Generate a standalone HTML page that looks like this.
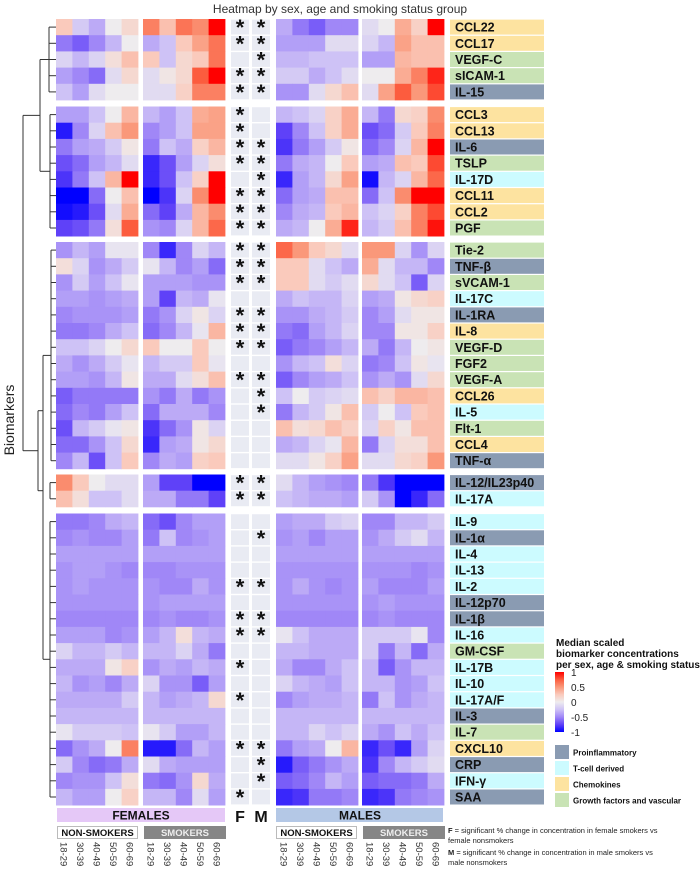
<!DOCTYPE html>
<html><head><meta charset="utf-8">
<style>
body{margin:0;background:#fff;}
svg{display:block;font-family:"Liberation Sans",sans-serif;}
</style></head>
<body>
<svg id="chart" width="700" height="870" viewBox="0 0 700 870">
<text x="340" y="13" text-anchor="middle" font-size="12" fill="#333">Heatmap by sex, age and smoking status group</text>
<text transform="translate(14,420) rotate(-90)" text-anchor="middle" font-size="14" fill="#222">Biomarkers</text>
<g id="dendro" stroke="#333" stroke-width="1" fill="none"></g>
<g id="cells"></g>
<g id="labels"></g>
<g id="bottom"></g>
<g id="legend"></g>
</svg>
<script>
const biomarkers=["CCL22","CCL17","VEGF-C","sICAM-1","IL-15",
"CCL3","CCL13","IL-6","TSLP","IL-17D","CCL11","CCL2","PGF",
"Tie-2","TNF-β","sVCAM-1","IL-17C","IL-1RA","IL-8","VEGF-D","FGF2","VEGF-A","CCL26","IL-5","Flt-1","CCL4","TNF-α",
"IL-12/IL23p40","IL-17A",
"IL-9","IL-1α","IL-4","IL-13","IL-2","IL-12p70","IL-1β","IL-16","GM-CSF","IL-17B","IL-10","IL-17A/F","IL-3","IL-7","CXCL10","CRP","IFN-γ","SAA"];
const groupSizes=[5,8,14,2,18];
const categories=["chem","chem","growth","growth","pro",
"chem","chem","pro","growth","tcell","chem","chem","growth",
"growth","pro","growth","tcell","pro","chem","growth","growth","growth","chem","tcell","growth","chem","pro",
"pro","tcell",
"tcell","pro","tcell","tcell","tcell","pro","pro","tcell","growth","tcell","tcell","tcell","pro","growth","chem","pro","tcell","pro"];
const ageGroups=["18-29","30-39","40-49","50-59","60-69"];
const femaleSig=[1,1,0,1,1, 1,1,1,1,0,1,1,1, 1,1,1,0,1,1,1,0,1,0,0,0,0,0, 1,1, 0,0,0,0,1,0,1,1,0,1,0,1,0,0,1,0,0,1];
const maleSig=[1,1,1,1,1, 0,0,1,1,1,1,1,1, 1,1,1,0,1,1,1,0,1,1,1,0,0,0, 1,1, 0,1,0,0,1,0,1,1,0,0,0,0,0,0,1,1,1,0];
const femaleNonSmokers=[
[0.25,-0.2,-0.35,0,0.15],[-0.55,-0.65,-0.5,-0.3,0],[-0.15,-0.3,-0.15,0.1,0.3],[-0.4,-0.5,-0.6,-0.1,0.15],[-0.25,-0.4,-0.1,0,0],
[-0.4,-0.4,-0.25,0,0.35],[-0.9,-0.5,-0.15,0.3,0.5],[-0.55,-0.4,-0.35,-0.2,0.05],[-0.7,-0.6,-0.4,-0.3,-0.1],[-0.8,-0.55,-0.25,0.35,1],[-1,-1,-0.6,0,0.3],[-0.95,-0.9,-0.7,-0.1,0.4],[-0.75,-0.7,-0.55,0.1,0.75],
[-0.45,-0.3,-0.4,-0.05,-0.05],[0.1,-0.15,-0.45,-0.35,-0.2],[-0.45,-0.2,-0.4,-0.25,-0.05],[-0.4,-0.4,-0.45,-0.4,-0.35],[-0.5,-0.45,-0.45,-0.45,-0.4],[-0.55,-0.55,-0.5,-0.35,-0.25],[-0.25,-0.25,-0.15,0,0.15],[-0.35,-0.45,-0.35,-0.2,-0.05],[-0.4,-0.4,-0.45,-0.3,0.05],[-0.65,-0.55,-0.55,-0.55,-0.55],[-0.6,-0.5,-0.55,-0.4,-0.25],[-0.7,-0.3,-0.2,-0.05,0.05],[-0.6,-0.6,-0.45,-0.25,0.15],[-0.5,-0.3,-0.7,-0.25,0.25],
[0.55,0.25,0,-0.1,-0.1],[0.3,0.1,-0.25,-0.25,-0.1],
[-0.55,-0.55,-0.5,-0.35,-0.3],[-0.5,-0.45,-0.5,-0.5,-0.4],[-0.4,-0.4,-0.4,-0.4,-0.4],[-0.45,-0.4,-0.4,-0.45,-0.5],[-0.45,-0.4,-0.45,-0.45,-0.45],[-0.45,-0.45,-0.45,-0.45,-0.45],[-0.5,-0.5,-0.5,-0.5,-0.5],[-0.4,-0.4,-0.4,-0.5,-0.45],[-0.15,-0.3,-0.3,-0.2,-0.3],[-0.35,-0.35,-0.35,0.05,0.2],[-0.3,-0.45,-0.4,-0.5,-0.35],[-0.35,-0.35,-0.35,-0.35,-0.2],[-0.3,-0.3,-0.3,-0.3,-0.3],[-0.05,-0.2,-0.2,-0.2,-0.25],[-0.6,-0.45,-0.35,0,0.6],[-0.2,-0.5,-0.6,-0.55,-0.35],[-0.5,-0.45,-0.45,-0.25,0.1],[-0.3,-0.4,-0.4,0,0.2]];
const femaleSmokers=[
[0.6,0.3,0.65,0.55,1],[-0.35,-0.25,0.25,0.45,0.65],[0.25,-0.25,0.15,0.25,0.65],[-0.1,0.05,0.15,0.75,1],[-0.1,-0.1,0.2,0.6,0.6],
[-0.3,-0.4,-0.25,0.4,0.45],[-0.5,-0.4,-0.25,0.45,0.45],[-0.55,-0.25,-0.35,0.2,0.35],[-0.85,-0.7,-0.4,-0.15,0.1],[-0.85,-0.7,-0.25,0.2,1],[-1,-0.8,-0.15,0.55,1],[-0.6,-0.75,-0.35,0.35,0.55],[-0.45,-0.5,-0.15,0.35,0.7],
[-0.5,-0.85,-0.5,-0.15,-0.3],[-0.05,-0.3,-0.5,-0.4,-0.6],[-0.4,-0.4,-0.4,-0.45,-0.45],[-0.4,-0.75,-0.3,-0.35,-0.05],[-0.55,-0.45,-0.15,0.05,-0.15],[-0.6,-0.5,-0.3,-0.05,0.35],[0.25,0,0,0.25,0],[-0.3,-0.2,-0.2,0.25,-0.05],[-0.35,-0.35,-0.1,0.1,0.3],[-0.45,-0.55,-0.35,-0.55,-0.45],[-0.6,-0.35,-0.35,-0.35,-0.5],[-0.8,-0.6,-0.45,0.05,-0.15],[-0.85,-0.4,-0.35,0.05,0.15],[-0.5,-0.35,-0.4,0.2,0.25],
[-0.4,-0.75,-0.75,-1,-1],[-0.35,-0.35,-0.55,-0.55,-0.75],
[-0.6,-0.7,-0.5,-0.4,-0.4],[-0.55,-0.25,-0.5,-0.45,-0.4],[-0.4,-0.4,-0.4,-0.4,-0.4],[-0.5,-0.5,-0.45,-0.45,-0.45],[-0.45,-0.5,-0.5,-0.35,-0.45],[-0.45,-0.4,-0.4,-0.4,-0.4],[-0.5,-0.45,-0.5,-0.5,-0.45],[-0.4,-0.3,0.1,-0.3,-0.35],[-0.3,-0.3,-0.15,-0.35,-0.55],[-0.45,-0.35,-0.4,-0.3,-0.35],[-0.15,-0.45,-0.45,-0.65,-0.4],[-0.3,-0.4,-0.35,-0.3,0.15],[-0.3,-0.3,-0.3,-0.3,-0.3],[-0.05,-0.2,-0.4,-0.4,-0.3],[-0.9,-0.9,-0.6,-0.3,-0.4],[-0.1,-0.35,-0.4,-0.4,-0.4],[-0.55,-0.6,-0.45,0.15,-0.35],[-0.3,-0.3,-0.5,-0.1,-0.4]];
const maleNonSmokers=[
[-0.35,-0.55,-0.65,-0.5,-0.5],[-0.4,-0.4,-0.4,-0.1,-0.1],[-0.3,-0.3,-0.25,-0.25,-0.25],[-0.2,-0.2,-0.35,-0.25,-0.1],[-0.45,-0.45,-0.1,0.15,0.3],
[-0.3,-0.25,-0.15,0.2,0.4],[-0.75,-0.5,-0.25,0.2,0.4],[-0.8,-0.55,-0.4,-0.2,0.05],[-0.55,-0.35,-0.3,0,0.25],[-0.85,-0.4,-0.3,0.15,0.45],[-0.6,-0.4,-0.35,0.3,0.3],[-0.5,-0.35,-0.3,0.25,0.35],[-0.35,-0.3,0,0.4,0.9],
[0.7,0.5,0.25,0.15,-0.1],[0.25,0.25,-0.1,-0.25,-0.35],[0.25,0.25,-0.1,-0.2,-0.1],[-0.35,-0.25,-0.3,-0.3,-0.15],[-0.45,-0.45,-0.35,-0.3,-0.2],[-0.55,-0.6,-0.4,-0.3,-0.15],[-0.65,-0.55,-0.5,-0.4,-0.3],[-0.45,-0.3,-0.25,0.1,-0.15],[-0.65,-0.5,-0.4,-0.35,-0.25],[-0.25,0,-0.2,-0.15,-0.1],[-0.55,-0.3,-0.2,0.05,0.3],[0.3,0.1,0.15,0.3,0.2],[-0.35,-0.3,-0.15,-0.05,0.35],[-0.1,-0.1,0.05,0.2,0.45],
[-0.1,-0.3,-0.4,-0.45,-0.5],[-0.25,-0.3,-0.35,-0.35,-0.4],
[-0.4,-0.35,-0.35,-0.2,-0.15],[-0.45,-0.4,-0.5,-0.4,-0.4],[-0.4,-0.4,-0.4,-0.4,-0.4],[-0.45,-0.45,-0.45,-0.45,-0.45],[-0.45,-0.35,-0.45,-0.5,-0.45],[-0.45,-0.45,-0.45,-0.45,-0.45],[-0.5,-0.5,-0.5,-0.5,-0.5],[-0.05,-0.25,-0.35,-0.35,-0.35],[-0.3,-0.3,-0.35,-0.35,-0.35],[-0.35,-0.5,-0.5,-0.35,-0.25],[-0.15,-0.3,-0.35,-0.4,-0.25],[-0.5,-0.4,-0.35,-0.35,-0.3],[-0.3,-0.3,-0.3,-0.3,-0.3],[-0.3,-0.3,-0.15,-0.25,-0.15],[-0.55,-0.4,-0.35,0,0.35],[-0.9,-0.65,-0.55,-0.45,-0.35],[-0.65,-0.6,-0.5,-0.3,-0.4],[-0.85,-0.8,-0.55,-0.55,-0.5]];
const maleSmokers=[
[-0.1,0,0.4,0.2,1],[-0.15,-0.3,0.45,0.3,0.3],[-0.4,-0.4,0.35,0.3,0.3],[0,0,0.4,0.6,0.9],[-0.1,0.45,0.75,0.5,0.8],
[-0.3,-0.55,0.15,0.2,0.55],[-0.7,-0.6,-0.2,0.25,0.6],[-0.6,-0.5,-0.15,0.35,1],[-0.4,-0.35,0.3,0.25,0.8],[-0.95,-0.3,-0.15,0.35,0.7],[-0.6,-0.25,0.55,1,1],[-0.25,-0.15,0.2,0.6,0.8],[-0.3,-0.2,0.3,0.6,0.95],
[0.5,0.5,-0.15,-0.45,-0.15],[0.4,-0.1,-0.3,-0.3,-0.5],[0.15,-0.1,-0.25,-0.65,-0.15],[-0.4,-0.35,0.05,0.15,0.2],[-0.5,-0.4,-0.1,0.05,0.05],[-0.5,-0.5,0.05,0.05,0.2],[-0.35,-0.55,-0.3,0,0.05],[-0.55,-0.5,-0.25,0.05,-0.05],[-0.45,-0.35,-0.45,-0.1,0.15],[0.3,0.2,0.35,0.35,0.3],[-0.2,0,-0.25,0.25,0.3],[-0.15,0.2,0.05,0.3,0.3],[-0.55,-0.15,0.1,0.1,0.3],[-0.1,-0.1,0.15,0.2,0.5],
[-0.55,-0.8,-1,-1,-1],[-0.2,-0.45,-1,-0.85,-0.6],
[-0.5,-0.5,-0.3,-0.3,-0.2],[-0.45,-0.35,-0.2,-0.1,-0.3],[-0.4,-0.4,-0.4,-0.4,-0.4],[-0.45,-0.45,-0.45,-0.5,-0.45],[-0.4,-0.5,-0.5,-0.5,-0.4],[-0.45,-0.4,-0.45,-0.45,-0.45],[-0.5,-0.45,-0.5,-0.5,-0.5],[-0.2,-0.2,-0.2,-0.05,-0.5],[-0.2,-0.55,-0.3,-0.6,-0.35],[-0.3,-0.65,-0.45,-0.3,-0.3],[-0.3,-0.3,-0.45,-0.4,-0.25],[-0.55,-0.25,-0.45,-0.35,-0.3],[-0.3,-0.3,-0.3,-0.3,-0.3],[-0.35,-0.45,-0.25,-0.35,-0.25],[-0.85,-0.7,-0.85,-0.4,-0.15],[-0.8,-0.5,-0.3,-0.2,-0.1],[-0.65,-0.6,-0.6,-0.55,-0.35],[-0.85,-0.8,-0.55,-0.5,-0.45]];
const legendTicks=[1,0.5,0,-0.5,-1];

const NS="http://www.w3.org/2000/svg";
function mk(tag,attrs,parent){const e=document.createElementNS(NS,tag);for(const k in attrs)e.setAttribute(k,attrs[k]);parent.appendChild(e);return e;}
const stops=[[-1,[0,0,255]],[-0.75,[95,65,248]],[-0.5,[160,135,247]],[-0.25,[206,194,246]],[0,[238,236,238]],[0.25,[250,202,188]],[0.5,[250,152,122]],[0.75,[252,92,62]],[1,[255,0,0]]];
function color(v){v=Math.max(-1,Math.min(1,v));for(let i=0;i<stops.length-1;i++){const a=stops[i],b=stops[i+1];if(v<=b[0]){const t=(v-a[0])/(b[0]-a[0]);const c=a[1].map((x,j)=>Math.round(x+(b[1][j]-x)*t));return `rgb(${c})`;}}return "rgb(255,0,0)";}
const catColor={pro:"#8a9bb2",tcell:"#ccfbff",chem:"#fde3a0",growth:"#c9e3b5"};
const groupTops=[19,106.5,242,474.5,513.5];
const rowH=16.2;
const rowY=[];{let r=0;groupSizes.forEach((n,g)=>{for(let i=0;i<n;i++){rowY[r]=groupTops[g]+i*rowH;r++;}});}
function yScale(i){return rowY[i];}
const panelX=[56,143,276,362];const colW=16.4;
function xScale(panel,col){return panelX[panel]+col*colW;}
const panels=[femaleNonSmokers,femaleSmokers,maleNonSmokers,maleSmokers];
const panelNames=["female-nonsmokers","female-smokers","male-nonsmokers","male-smokers"];
const cells=document.getElementById('cells');
panels.forEach((data,p)=>{
  data.forEach((row,i)=>{row.forEach((v,c)=>{
    const r=mk('rect',{x:xScale(p,c).toFixed(2),y:yScale(i).toFixed(2),width:colW+0.4,height:rowH+0.4,fill:color(v)},cells);
    
    
  });});
});
const sigX=[231,252];
[femaleSig,maleSig].forEach((arr,k)=>{
  arr.forEach((s,i)=>{
    const r=mk('rect',{x:sigX[k],y:(yScale(i)+0.7).toFixed(2),width:18,height:rowH-1.4,fill:"#e9ebf3"},cells);
    
    
    if(s){const t=mk('text',{x:sigX[k]+9,y:(yScale(i)+rowH/2+8).toFixed(2),'text-anchor':'middle','font-size':22,'font-weight':'bold',fill:'#111'},cells);t.textContent='*';
      
      }
  });
});
const lab=document.getElementById('labels');
biomarkers.forEach((b,i)=>{
  const r=mk('rect',{x:450,y:(yScale(i)+0.6).toFixed(2),width:94,height:rowH-1.2,fill:catColor[categories[i]]},lab);
  
  
  const t=mk('text',{x:455,y:(yScale(i)+rowH/2+4.5).toFixed(2),'font-size':12.5,'font-weight':'bold',fill:'#111'},lab);t.textContent=b;
  
  
});
const dg=document.getElementById('dendro');
function seg(x1,y1,x2,y2){mk('line',{x1,y1,x2,y2},dg);}
function cy(i){return yScale(i)+rowH/2;}
function leafs(start,n,xJoin){for(let i=start;i<start+n;i++)seg(xJoin,cy(i),56,cy(i));}
function tree(start,n,xj){leafs(start,n,xj);seg(xj,cy(start),xj,cy(start+n-1));}
let s=0;const joinXs=[49,50,51,50,50];
const mids=[];
groupSizes.forEach((n,g)=>{tree(s,n,joinXs[g]);mids.push([(cy(s)+cy(s+n-1))/2,joinXs[g]]);s+=n;});
seg(40,mids[0][0],mids[0][1],mids[0][0]);seg(40,mids[1][0],mids[1][1],mids[1][0]);seg(40,mids[0][0],40,mids[1][0]);
seg(43,mids[2][0],mids[2][1],mids[2][0]);seg(43,mids[4][0],mids[4][1],mids[4][0]);seg(43,mids[2][0],43,mids[4][0]);
seg(38,mids[3][0],43,mids[3][0]);seg(38,mids[3][0]-80,38,mids[3][0]);
seg(38,mids[3][0]-80,43,mids[3][0]-80);
seg(23,(mids[0][0]+mids[1][0])/2,40,(mids[0][0]+mids[1][0])/2);
seg(23,mids[3][0]-40,38,mids[3][0]-40);
seg(23,(mids[0][0]+mids[1][0])/2,23,mids[3][0]-40);
const bt=document.getElementById('bottom');
function txt(x,y,str,attrs,name,parent){const t=mk('text',Object.assign({x,y},attrs),parent||bt);t.textContent=str;return t;}
let e=mk('rect',{x:57,y:808,width:168,height:14,fill:"#e5c8f7"},bt);
txt(141,819.5,'FEMALES',{'text-anchor':'middle','font-size':12,'font-weight':'bold',fill:'#111'},'females-label');
e=mk('rect',{x:276,y:808,width:167,height:14,fill:"#b4c8e6"},bt);
txt(360,819.5,'MALES',{'text-anchor':'middle','font-size':12,'font-weight':'bold',fill:'#111'},'males-label');
txt(240,822,'F',{'text-anchor':'middle','font-size':16,'font-weight':'bold',fill:'#111'},'f-column-label');
txt(261,822,'M',{'text-anchor':'middle','font-size':16,'font-weight':'bold',fill:'#111'},'m-column-label');
[[57,'female'],[276,'male']].forEach(([x,g])=>{
  e=mk('rect',{x:x+0.5,y:826.5,width:80,height:12,fill:'#fff',stroke:'#bbb'},bt);
  txt(x+40.5,836,'NON-SMOKERS',{'text-anchor':'middle','font-size':9.5,'font-weight':'bold',fill:'#111'},g+'-nonsmokers-label');
  e=mk('rect',{x:x+87,y:826,width:82,height:13,fill:'#868686'},bt);
  txt(x+128,836,'SMOKERS',{'text-anchor':'middle','font-size':9.5,'font-weight':'bold',fill:'#eee'},g+'-smokers-label');
});
[0,1,2,3].forEach(p=>{ageGroups.forEach((a,c)=>{
  const x=xScale(p,c)+colW/2-3.5;
  txt(0,0,a,{'font-size':9.5,fill:'#333',transform:`translate(${x.toFixed(1)},842) rotate(90)`},'age-tick-'+panelNames[p]+'-'+a);
});});
const lg=document.getElementById('legend');
['Median scaled','biomarker concentrations','per sex, age & smoking status'].forEach((l,i)=>txt(556,646+i*11,l,{'font-size':10,'font-weight':'bold',fill:'#111'},'legend-title-line-'+(i+1),lg));
const defs=mk('defs',{},lg);const grad=mk('linearGradient',{id:'cb',x1:0,y1:0,x2:0,y2:1},defs);
for(let k=0;k<=8;k++){const v=1-k*0.25;mk('stop',{offset:(k/8),'stop-color':color(v)},grad);}
e=mk('rect',{x:555,y:672,width:9,height:60,fill:'url(#cb)'},lg);
legendTicks.forEach(v=>{const y=672+(1-v)/2*60;txt(571,y+4,String(v),{'font-size':10,fill:'#222'},'colorbar-tick-'+v,lg);});
const legCats=[["pro","Proinflammatory"],["tcell","T-cell derived"],["chem","Chemokines"],["growth","Growth factors and vascular"]];
legCats.forEach(([c,l],i)=>{const y=745+i*16;
  e=mk('rect',{x:555,y,width:14,height:14,fill:catColor[c]},lg);
  txt(573,y+10.5,l,{'font-size':8,'font-weight':'bold',fill:'#111'},'legend-entry-'+c,lg);});
txt(448,833,'',{'font-size':7.5,fill:'#222'},'footnote-f',lg).innerHTML='<tspan font-weight="bold">F</tspan> = significant % change in concentration in female smokers vs';
txt(448,843,'female nonsmokers',{'font-size':7.5,fill:'#222'},'footnote-f-2',lg);
txt(448,855,'',{'font-size':7.5,fill:'#222'},'footnote-m',lg).innerHTML='<tspan font-weight="bold">M</tspan> = significant % change in concentration in male smokers vs';
txt(448,865,'male nonsmokers',{'font-size':7.5,fill:'#222'},'footnote-m-2',lg);
</script>
</body></html>
